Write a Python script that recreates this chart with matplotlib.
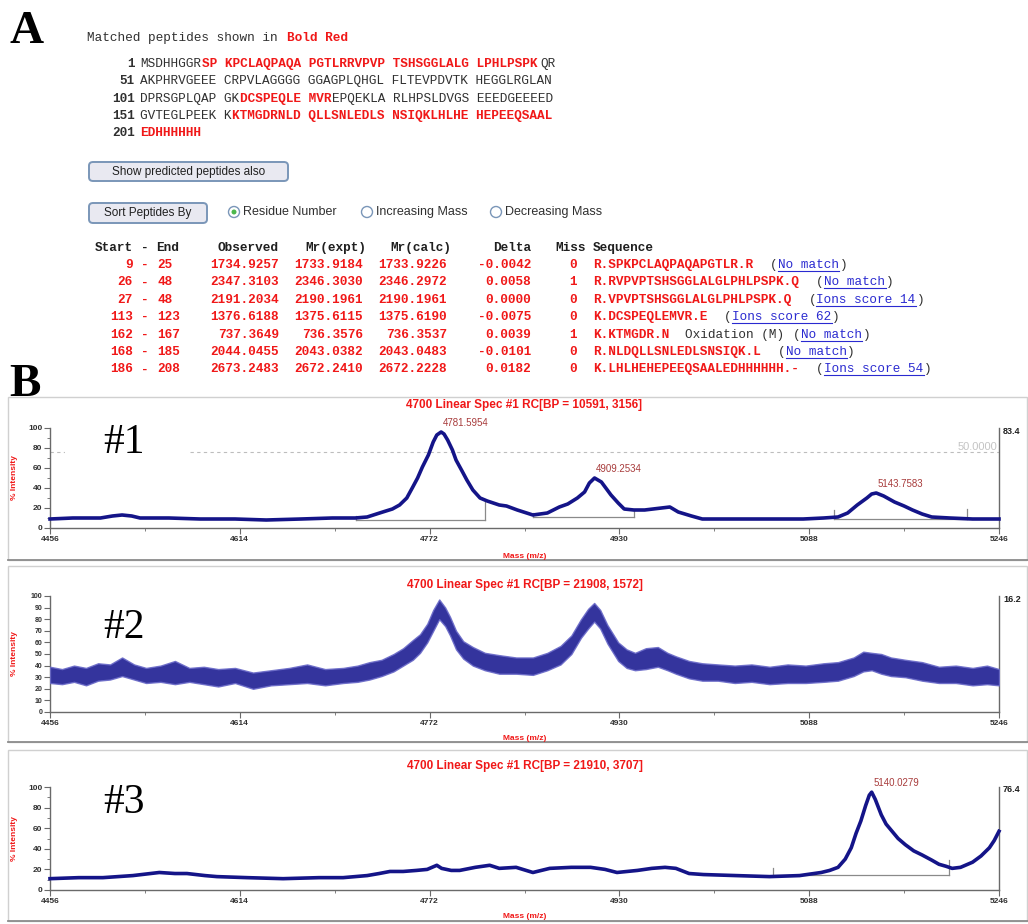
import numpy as np
import matplotlib
matplotlib.use("Agg")
from matplotlib import pyplot as plt
from matplotlib.patches import Rectangle, Ellipse, FancyBboxPatch
from matplotlib.lines import Line2D

plt.rcParams['font.family'] = ['Liberation Sans', 'DejaVu Sans']

W, H = 1028, 924

# protein sequence, residues 1-208
protein = ("MSDHHGGRSPKPCLAQPAQAPGTLRRVPVPTSHSGGLALGLPHLPSPKQR"
           "AKPHRVGEEECRPVLAGGGGGGAGPLQHGLFLTEVPDVTKHEGGLRGLAN"
           "DPRSGPLQAPGKDCSPEQLEMVREPQEKLARLHPSLDVGSEEEDGEEEED"
           "GVTEGLPEEKKKTMGDRNLDQLLSNLEDLSNSIQKLHLHEHEPEEQSAAL"
           "EDHHHHHH")

# matched peptides
pep_start = [9, 26, 27, 113, 162, 168, 186]
pep_end = [25, 48, 48, 123, 167, 185, 208]
observed = [1734.9257, 2347.3103, 2191.2034, 1376.6188, 737.3649, 2044.0455, 2673.2483]
mr_calc = [1733.9226, 2346.2972, 2190.1961, 1375.6190, 736.3537, 2043.0483, 2672.2228]
missed = [0, 1, 0, 0, 1, 0, 0]
mods = ["", "", "", "", "Oxidation (M)", "", ""]
links = ["No match", "No match", "Ions score 14", "Ions score 62",
         "No match", "No match", "Ions score 54"]
PROTON = 1.0073

# spectra (m/z, % intensity)
mz_ticks = [4456, 4614, 4772, 4930, 5088, 5246]

mz1 = [4456, 4475, 4498, 4508, 4516, 4524, 4531, 4555, 4581, 4610, 4636, 4665,
       4691, 4710, 4720, 4733, 4741, 4747, 4753, 4758, 4762, 4766, 4771, 4775,
       4778, 4781.6, 4784, 4787, 4791, 4794, 4799, 4803, 4808, 4814, 4820, 4825,
       4830, 4836, 4845, 4858, 4870, 4880, 4887, 4895, 4901, 4905, 4909.3, 4915,
       4923, 4929, 4934, 4942, 4951, 4958, 4965, 4972, 4979, 4990, 4999, 5020,
       5040, 5060, 5083, 5100, 5112, 5120, 5128, 5136, 5140, 5143.8, 5150, 5159,
       5167, 5174, 5182, 5190, 5205, 5224, 5246]
int1 = [9, 10, 10, 12, 13, 12, 10, 10, 9, 9, 8, 9,
        10, 10, 11, 16, 19, 23, 30, 41, 50, 61, 73, 86,
        93, 96, 94, 88, 78, 68, 57, 48, 38, 30, 27, 25,
        23, 22, 18, 13, 15, 21, 24, 30, 36, 45, 50, 46,
        33, 25, 19, 18, 18, 19, 20, 21, 16, 12, 9, 9,
        9, 9, 9, 10, 11, 15, 23, 30, 34, 35, 32, 26,
        22, 18, 14, 11, 10, 9, 9]
peaks1 = [(4781.6, 96, "4781.5954"), (4909.3, 50, "4909.2534"), (5143.8, 35, "5143.7583")]
# integration baselines: start, end, level, left tick top, right tick top
bases1 = [(4711, 4818, 8, 12, 26), (4858, 4942, 11, 15, 18), (5109, 5219, 9, 18, 19)]

mz2 = [4456, 4466, 4476, 4486, 4496, 4506, 4516, 4526, 4536, 4548, 4560, 4572,
       4584, 4596, 4610, 4625, 4640, 4655, 4670, 4685, 4700, 4712, 4722, 4732,
       4742, 4750, 4758, 4764, 4770, 4775, 4780, 4785, 4789, 4794, 4800, 4808,
       4818, 4830, 4844, 4858, 4870, 4881, 4890, 4898, 4904, 4909, 4914, 4920,
       4929, 4936, 4943, 4952, 4962, 4970, 4977, 4988, 4999, 5012, 5026, 5040,
       5055, 5070, 5085, 5100, 5112, 5125, 5133, 5140, 5148, 5156, 5168, 5182,
       5196, 5210, 5224, 5236, 5246]
low2 = [25, 24, 26, 23, 27, 28, 31, 28, 25, 26, 24, 26,
        24, 22, 25, 20, 23, 24, 25, 23, 25, 26, 28, 31,
        35, 40, 45, 51, 60, 70, 80, 74, 66, 54, 46, 40,
        36, 33, 33, 32, 36, 41, 50, 64, 72, 78, 72, 59,
        44, 38, 36, 37, 39, 36, 33, 29, 27, 27, 25, 26,
        24, 25, 25, 26, 27, 31, 35, 36, 33, 31, 30, 27,
        25, 25, 23, 24, 23]
high2 = [39, 37, 40, 38, 42, 41, 47, 41, 38, 40, 44, 38,
         39, 37, 38, 34, 36, 38, 41, 37, 38, 40, 43, 45,
         50, 55, 62, 67, 76, 88, 97, 90, 82, 70, 61, 56,
         51, 49, 47, 47, 51, 57, 66, 80, 89, 94, 88, 75,
         60, 54, 51, 55, 56, 51, 48, 44, 42, 41, 40, 41,
         39, 41, 40, 42, 43, 47, 52, 51, 50, 47, 45, 43,
         39, 40, 38, 40, 37]

mz3 = [4456, 4480, 4500, 4525, 4547, 4560, 4570, 4585, 4595, 4620, 4650, 4680,
       4700, 4720, 4730, 4739, 4750, 4761, 4770, 4778, 4782, 4790, 4797, 4810,
       4822, 4830, 4844, 4858, 4872, 4890, 4906, 4918, 4928, 4945, 4957, 4968,
       4977, 4988, 5000, 5027, 5055, 5080, 5098, 5105, 5112, 5118, 5123, 5127,
       5131, 5135, 5138, 5140, 5143, 5148, 5152, 5157, 5162, 5168, 5175, 5182,
       5190, 5196, 5202, 5207, 5214, 5224, 5231, 5238, 5242, 5246]
int3 = [11, 12, 12, 14, 17, 16, 16, 14, 13, 12, 11, 12,
        12, 14, 16, 18, 18, 19, 20, 24, 21, 19, 19, 22,
        24, 21, 22, 17, 21, 22, 22, 20, 17, 19, 21, 22,
        21, 16, 15, 14, 13, 14, 17, 19, 22, 30, 41, 55,
        67, 82, 92, 95, 88, 73, 64, 57, 50, 44, 38, 34,
        29, 25, 23, 21, 22, 27, 33, 41, 48, 57]
peaks3 = [(5140, 95, "5140.0279")]
bases3 = [(5058, 5204, 15, 21, 29)]

spec_titles = ["4700 Linear Spec #1 RC[BP = 10591, 3156]",
               "4700 Linear Spec #1 RC[BP = 21908, 1572]",
               "4700 Linear Spec #1 RC[BP = 21910, 3707]"]
spec_max = ["83.4", "16.2", "76.4"]
spec_tags = ["#1", "#2", "#3"]

RED = '#f01818'
DARK = '#303030'
NAVY = '#141488'
LINK = '#2a2ad0'
MONO = dict(family='Liberation Mono', fontsize=9.2, va='center')
CW = 7.7  # px per monospace character


def fx(x):
    return x / W


def fy(y):
    return 1 - y / H


fig = plt.figure(figsize=(W / 100, H / 100), dpi=100)
fig.patch.set_facecolor('white')


def ftext(x, y, s, **kw):
    return fig.text(fx(x), fy(y), s, **kw)


def frect(x0, y0, x1, y1, **kw):
    r = Rectangle((fx(x0), fy(y1)), (x1 - x0) / W, (y1 - y0) / H,
                  transform=fig.transFigure, **kw)
    fig.add_artist(r)
    return r


def fline(xs, ys, **kw):
    fig.add_artist(Line2D([fx(x) for x in xs], [fy(y) for y in ys],
                          transform=fig.transFigure, **kw))


# ---------------- panel A ----------------
ftext(9, 43, "A", family='Liberation Serif', weight='bold', fontsize=34, va='baseline')
ftext(87, 38, "Matched peptides shown in ", color=DARK, **MONO)
ftext(87 + 26 * CW, 38, "Bold Red", color=RED, weight='bold', **MONO)

covered = set()
for s, e in zip(pep_start, pep_end):
    covered.update(range(s, e + 1))

for k in range(0, len(protein), 50):
    y = 64 + (k // 50) * 17.3
    ftext(135, y, str(k + 1), ha='right', color=DARK, weight='bold', **MONO)
    cells = []
    for i, aa in enumerate(protein[k:k + 50]):
        if i and i % 10 == 0:
            cells.append((" ", cells[-1][1]))
        cells.append((aa, (k + i + 1) in covered))
    col = 0
    while col < len(cells):
        red = cells[col][1]
        end = col
        while end < len(cells) and cells[end][1] == red:
            end += 1
        txt = "".join(c for c, _ in cells[col:end])
        ftext(140 + col * CW, y, txt, color=RED if red else DARK,
              weight='bold' if red else 'normal', **MONO)
        col = end


def button(x0, y0, x1, y1, label):
    b = FancyBboxPatch((fx(x0), fy(y1)), (x1 - x0) / W, (y1 - y0) / H,
                       boxstyle="round,pad=0,rounding_size=0.004",
                       transform=fig.transFigure, facecolor='#e9e9f1',
                       edgecolor='#7a96b8', lw=1.4)
    fig.add_artist(b)
    ftext((x0 + x1) / 2, (y0 + y1) / 2, label, ha='center', va='center',
          fontsize=8.5, color='#202020')


def radio(x, y, label, checked):
    fig.add_artist(Ellipse((fx(x), fy(y)), 11 / W, 11 / H, transform=fig.transFigure,
                           facecolor='white', edgecolor='#7a96b8', lw=1))
    if checked:
        fig.add_artist(Ellipse((fx(x), fy(y)), 5 / W, 5 / H, transform=fig.transFigure,
                               facecolor='#4cb84c', edgecolor='none'))
    ftext(x + 9, y, label, ha='left', va='center', fontsize=9, color=DARK)


button(89, 162, 288, 181, "Show predicted peptides also")
button(89, 203, 207, 223, "Sort Peptides By")
radio(234, 212, "Residue Number", True)
radio(367, 212, "Increasing Mass", False)
radio(496, 212, "Decreasing Mass", False)

# peptide table
hdr = dict(color='#202020', weight='bold', **MONO)
ftext(95, 248, "Start", ha='left', **hdr)
ftext(145, 248, "-", ha='center', **hdr)
ftext(156, 248, "End", ha='left', **hdr)
ftext(279, 248, "Observed", ha='right', **hdr)
ftext(366, 248, "Mr(expt)", ha='right', **hdr)
ftext(451, 248, "Mr(calc)", ha='right', **hdr)
ftext(531, 248, "Delta", ha='right', **hdr)
ftext(555, 248, "Miss", ha='left', **hdr)
ftext(593, 248, "Sequence", ha='left', **hdr)

val = dict(color=RED, weight='bold', **MONO)
for i in range(len(pep_start)):
    y = 265 + i * 17.4
    s, e = pep_start[i], pep_end[i]
    expt = round(observed[i] - PROTON, 4)
    delta = round(expt - mr_calc[i], 4) + 0.0
    ftext(133, y, str(s), ha='right', **val)
    ftext(145, y, "-", ha='center', **val)
    ftext(157, y, str(e), ha='left', **val)
    ftext(279, y, "%.4f" % observed[i], ha='right', **val)
    ftext(363, y, "%.4f" % expt, ha='right', **val)
    ftext(447, y, "%.4f" % mr_calc[i], ha='right', **val)
    ftext(531, y, "%.4f" % delta, ha='right', **val)
    ftext(577, y, str(missed[i]), ha='right', **val)
    prev = protein[s - 2] if s > 1 else "-"
    nxt = protein[e] if e < len(protein) else "-"
    seq = "%s.%s.%s" % (prev, protein[s - 1:e], nxt)
    ftext(593, y, seq, ha='left', **val)
    x = 593 + (len(seq) + 2) * CW
    if mods[i]:
        ftext(x, y, mods[i], ha='left', color=DARK, **MONO)
        x += (len(mods[i]) + 1) * CW
    ftext(x, y, "(", ha='left', color=DARK, **MONO)
    ftext(x + CW, y, links[i], ha='left', color=LINK, **MONO)
    ftext(x + CW * (1 + len(links[i])), y, ")", ha='left', color=DARK, **MONO)
    fline([x + CW, x + CW * (1 + len(links[i]))], [y + 6, y + 6], color=LINK, lw=0.8)

# ---------------- panel B ----------------
ftext(9, 396, "B", family='Liberation Serif', weight='bold', fontsize=34, va='baseline')

X0, X1 = 50, 999
ax_top = [428, 596, 787]
ax_bottom = [528, 712, 890]
title_y = [405, 585, 766]
tag_baseline = [453, 638, 813]
xlabel_y = [557, 738, 917]
frames = [(397, 560), (566, 742), (750, 921)]

for f0, f1 in frames:
    frect(8, f0, 1027, f1, facecolor='none', edgecolor='#d0d0d0', lw=1)
    fline([8, 1028], [f1, f1], color='#8c8c8c', lw=1.3)

axes = []
for p in range(3):
    top, bot = ax_top[p], ax_bottom[p]
    ax = fig.add_axes([fx(X0), fy(bot), (X1 - X0) / W, (bot - top) / H])
    ax.patch.set_alpha(0)
    ax.set_xlim(mz_ticks[0], mz_ticks[-1])
    ax.set_ylim(0, 100)
    ax.spines['top'].set_visible(False)
    for side in ('left', 'bottom', 'right'):
        ax.spines[side].set_color('#6a6a6a')
        ax.spines[side].set_linewidth(1.0)
    ax.set_xticks(mz_ticks)
    ax.set_xticklabels([str(t) for t in mz_ticks], fontsize=6, fontweight='bold', color=DARK)
    ax.set_xticks([(a + b) / 2 for a, b in zip(mz_ticks[:-1], mz_ticks[1:])], minor=True)
    if p == 1:
        yt = list(range(0, 101, 10))
        ax.set_yticks(yt)
        ax.set_yticklabels([str(v) for v in yt], fontsize=5, fontweight='bold', color=DARK)
    else:
        yt = list(range(0, 101, 20))
        ax.set_yticks(yt)
        ax.set_yticklabels([str(v) for v in yt], fontsize=6, fontweight='bold', color=DARK)
        ax.set_yticks(list(range(10, 100, 20)), minor=True)
    ax.tick_params(which='both', direction='out', color='#6a6a6a', pad=1.5)
    ax.tick_params(which='major', length=4)
    ax.tick_params(which='minor', length=2)

    ftext((X0 + X1) / 2, title_y[p], spec_titles[p], ha='center', va='center',
          color=RED, weight='bold', fontsize=8.5)
    ftext((X0 + X1) / 2, xlabel_y[p], "Mass (m/z)", ha='center', va='center',
          color=RED, weight='bold', fontsize=6)
    ftext(15, (top + bot) / 2, "% Intensity", ha='center', va='center', rotation=90,
          color=RED, weight='bold', fontsize=6)
    ftext(X1 + 4, top + 3, spec_max[p], ha='left', va='center',
          color='#202020', weight='bold', fontsize=6.5)
    ftext(103, tag_baseline[p], spec_tags[p], family='Liberation Serif',
          fontsize=30, va='baseline', ha='left', zorder=3)
    axes.append(ax)


def draw_bases(ax, bases):
    for s, e, lvl, lt, rt in bases:
        ax.plot([s, e], [lvl, lvl], color='#8a8a8a', lw=0.9, zorder=2)
        ax.plot([s, s], [lvl, lt], color='#8a8a8a', lw=0.9, zorder=2)
        ax.plot([e, e], [lvl, rt], color='#8a8a8a', lw=0.9, zorder=2)


def label_peaks(ax, peaks):
    for m, v, lab in peaks:
        ax.annotate(lab, (m, v), xytext=(1, 3), textcoords='offset points',
                    ha='left', va='bottom', color='#a83c3c', fontsize=7)


# spectrum 1
ax = axes[0]
ax.axhline(76, color='#bdbdbd', lw=0.8, ls=(0, (3, 3)), zorder=1)
fig.add_artist(Rectangle((fx(65), fy(458)), 125 / W, 14 / H, transform=fig.transFigure,
                         facecolor='white', edgecolor='none', zorder=2))
ftext(997, 447, "50.0000", ha='right', va='center', color='#c4c4c4', fontsize=8)
draw_bases(ax, bases1)
ax.plot(mz1, int1, color=NAVY, lw=2.6, zorder=3, clip_on=False)
label_peaks(ax, peaks1)

# spectrum 2: noisy trace drawn as its envelope
ax = axes[1]
ax.fill_between(mz2, low2, high2, facecolor='#1e1e92', edgecolor='#6a6ac8',
                lw=1.0, alpha=0.9, zorder=3)

# spectrum 3
ax = axes[2]
draw_bases(ax, bases3)
ax.plot(mz3, int3, color=NAVY, lw=2.6, zorder=3, clip_on=False)
label_peaks(ax, peaks3)

fig.savefig("out.png", dpi=100, facecolor='white')
